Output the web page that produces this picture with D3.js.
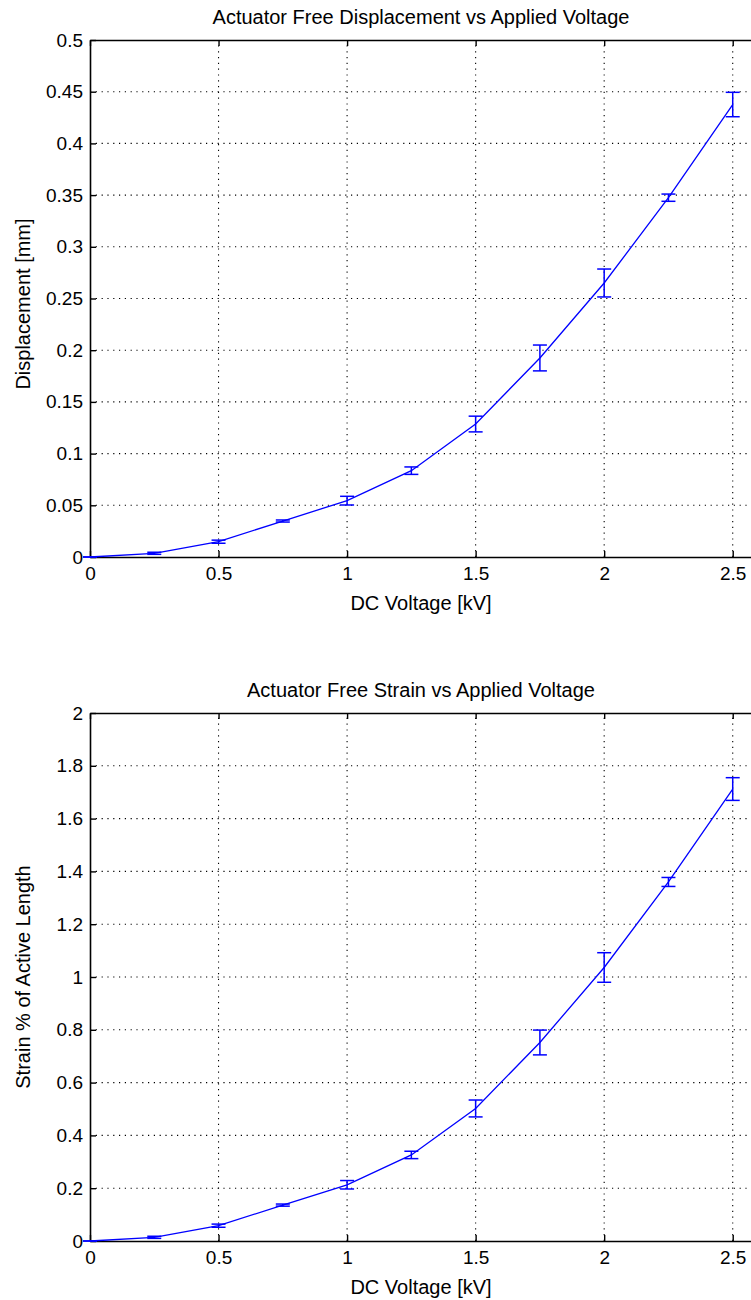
<!DOCTYPE html>
<html>
<head>
<meta charset="utf-8">
<script src="https://cdn.jsdelivr.net/npm/d3@7/dist/d3.min.js"></script>
<style>
  html, body { margin: 0; padding: 0; background: #fff; }
  svg { display: block; }
  text { font-family: "Liberation Sans", Arial, Helvetica, sans-serif; fill: #000; }
</style>
</head>
<body>
<svg id="chart" width="751" height="1300"></svg>
<script>
// ---- data ----
const voltage = [0, 0.25, 0.5, 0.75, 1.0, 1.25, 1.5, 1.75, 2.0, 2.25, 2.5];
const displacement = [0, 0.0036, 0.0148, 0.0348, 0.0545, 0.0835, 0.1286, 0.1925, 0.265, 0.3475, 0.4376];
const displacementErr = [0, 0.001, 0.0015, 0.001, 0.0042, 0.0036, 0.0076, 0.0125, 0.0135, 0.0035, 0.0118];
const strain = [0, 0.014, 0.058, 0.136, 0.213, 0.326, 0.502, 0.752, 1.036, 1.36, 1.712];
const strainErr = [0, 0.004, 0.006, 0.004, 0.016, 0.014, 0.032, 0.047, 0.056, 0.017, 0.043];
const xTicks = [0, 0.5, 1, 1.5, 2, 2.5];
const yTicksTop = [0, 0.05, 0.1, 0.15, 0.2, 0.25, 0.3, 0.35, 0.4, 0.45, 0.5];
const yTicksBottom = [0, 0.2, 0.4, 0.6, 0.8, 1, 1.2, 1.4, 1.6, 1.8, 2];
const titles = ["Actuator Free Displacement vs Applied Voltage", "Actuator Free Strain vs Applied Voltage"];
const yLabels = ["Displacement [mm]", "Strain % of Active Length"];
const xLabel = "DC Voltage [kV]";

const svg = d3.select("#chart");
svg.append("rect").attr("width", 751).attr("height", 1300).attr("fill", "#fff");

const x = d3.scaleLinear().domain([0, 2.575]).range([90, 752]);
const fmt = v => String(+v.toFixed(2));

function panel(cfg) {
  const y = d3.scaleLinear().domain(cfg.yDomain).range(cfg.yRange);
  const g = svg.append("g");
  const top = cfg.yRange[1], bot = cfg.yRange[0];
  const left = x.range()[0], right = x.range()[1];

  // grid
  const grid = g.append("g").attr("stroke", "#000").attr("stroke-width", 1.1)
    .attr("stroke-dasharray", "1.2,4.6").attr("fill", "none");
  grid.selectAll("line.vx").data(xTicks.filter(d => d > 0)).join("line")
    .attr("x1", d => x(d)).attr("x2", d => x(d)).attr("y1", bot).attr("y2", top);
  grid.selectAll("line.hy").data(cfg.yTicks.filter(d => d > cfg.yDomain[0] && d < cfg.yDomain[1])).join("line")
    .attr("x1", left).attr("x2", right).attr("y1", d => y(d)).attr("y2", d => y(d));

  // axes
  const axB = d3.axisBottom(x).tickValues(xTicks).tickFormat(fmt).tickSizeInner(-6).tickSizeOuter(0).tickPadding(10);
  const axT = d3.axisTop(x).tickValues(xTicks).tickFormat("").tickSizeInner(-6).tickSizeOuter(0);
  const axL = d3.axisLeft(y).tickValues(cfg.yTicks).tickFormat(fmt).tickSizeInner(-6).tickSizeOuter(0).tickPadding(7);
  const gb = g.append("g").attr("transform", `translate(0,${bot})`).call(axB);
  const gt = g.append("g").attr("transform", `translate(0,${top})`).call(axT);
  const gl = g.append("g").attr("transform", `translate(${left},0)`).call(axL);
  [gb, gt, gl].forEach(a => {
    a.select(".domain").attr("stroke", "#000").attr("stroke-width", 1.6);
    a.selectAll(".tick line").attr("stroke", "#000").attr("stroke-width", 1.4);
    a.selectAll(".tick text").attr("font-size", 19).attr("fill", "#000")
      .attr("font-family", '"Liberation Sans", Arial, sans-serif');
  });

  // data line
  const line = d3.line().x((d, i) => x(voltage[i])).y(d => y(d));
  g.append("path").datum(cfg.values).attr("d", line)
    .attr("fill", "none").attr("stroke", "#0000ff").attr("stroke-width", 1.3);

  // error bars
  const eb = g.append("g").attr("stroke", "#0000ff").attr("stroke-width", 1.5).attr("fill", "none");
  const cap = 7;
  cfg.values.forEach((v, i) => {
    const e = cfg.errs[i];
    const cx = x(voltage[i]);
    eb.append("line").attr("x1", cx).attr("x2", cx).attr("y1", y(v - e)).attr("y2", y(v + e));
    eb.append("line").attr("x1", cx - cap).attr("x2", cx + cap).attr("y1", y(v - e)).attr("y2", y(v - e));
    eb.append("line").attr("x1", cx - cap).attr("x2", cx + cap).attr("y1", y(v + e)).attr("y2", y(v + e));
  });

  const cxMid = (left + right) / 2;
  g.append("text").attr("x", cxMid).attr("y", top - 16).attr("text-anchor", "middle")
    .attr("font-size", 20).text(cfg.title);
  g.append("text").attr("x", cxMid).attr("y", bot + 53).attr("text-anchor", "middle")
    .attr("font-size", 20).text(xLabel);
  g.append("text").attr("transform", `translate(30,${cfg.yLabelCenter}) rotate(-90)`)
    .attr("text-anchor", "middle").attr("font-size", 20).text(cfg.yLabel);
}

panel({ yDomain: [0, 0.5], yRange: [557, 40], yTicks: yTicksTop, values: displacement, errs: displacementErr,
        title: titles[0], yLabel: yLabels[0], yLabelCenter: 304 });
panel({ yDomain: [0, 2], yRange: [1241, 713], yTicks: yTicksBottom, values: strain, errs: strainErr,
        title: titles[1], yLabel: yLabels[1], yLabelCenter: 977 });
</script>
</body>
</html>
